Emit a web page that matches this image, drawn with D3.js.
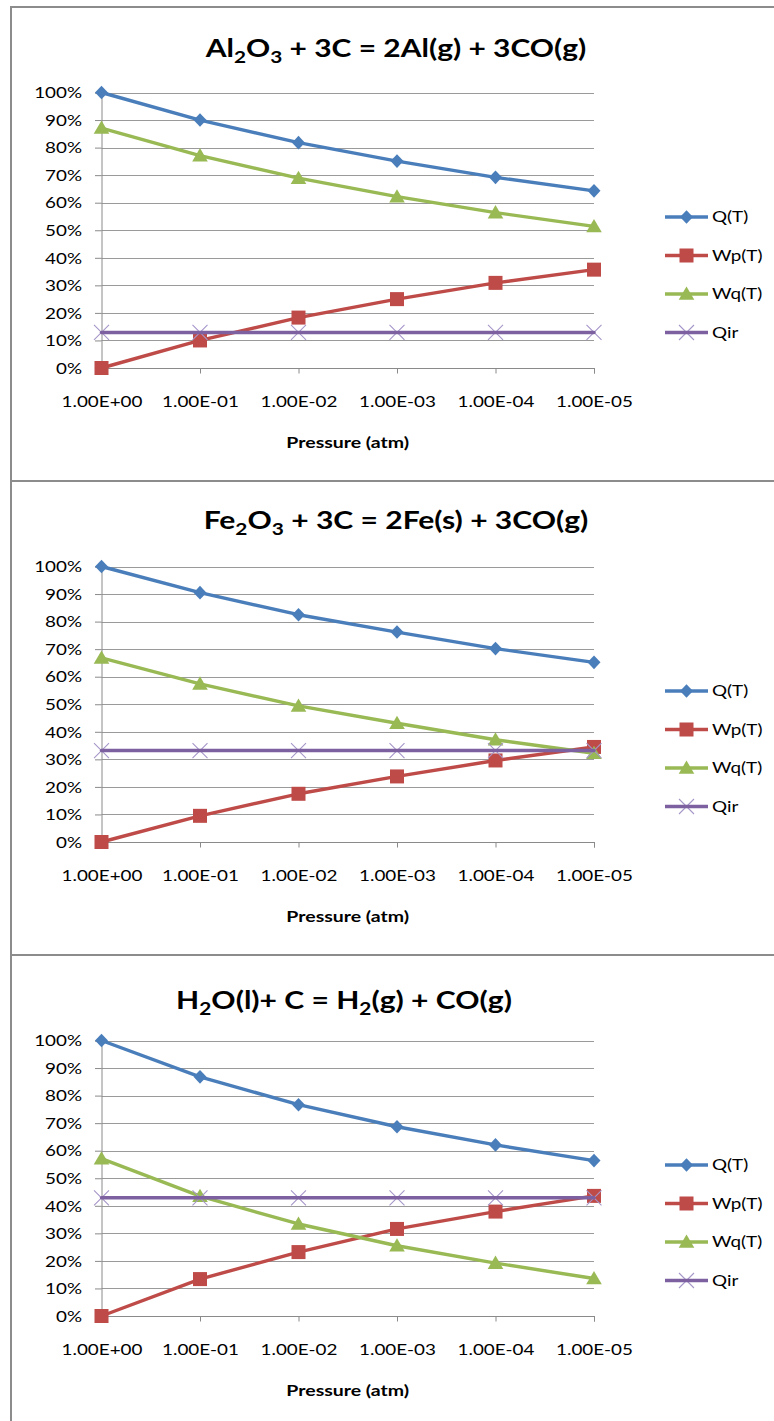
<!DOCTYPE html>
<html>
<head>
<meta charset="utf-8">
<script src="https://cdn.jsdelivr.net/npm/d3@7"></script>
<style>
  body { margin: 0; background: #fff; }
  svg { display: block; }
  text { font-family: Lato, "Open Sans", "Noto Sans", sans-serif; fill: #000; }
</style>
</head>
<body>
<svg id="chart" width="774" height="1421"></svg>
<script>
// ---- data ----
const pressures = ["1.00E+00", "1.00E-01", "1.00E-02", "1.00E-03", "1.00E-04", "1.00E-05"];
const seriesNames = ["Q(T)", "Wp(T)", "Wq(T)", "Qir"];
const yTicks = [0, 0.1, 0.2, 0.3, 0.4, 0.5, 0.6, 0.7, 0.8, 0.9, 1.0];
const xAxisTitle = "Pressure (atm)";

// Al2O3 + 3C = 2Al(g) + 3CO(g)
const alQ   = [1.000, 0.900, 0.818, 0.751, 0.692, 0.643];
const alWp  = [0.000, 0.100, 0.183, 0.250, 0.309, 0.357];
const alWq  = [0.871, 0.771, 0.689, 0.622, 0.564, 0.514];
const alQir = [0.129, 0.129, 0.129, 0.129, 0.129, 0.129];

// Fe2O3 + 3C = 2Fe(s) + 3CO(g)
const feQ   = [1.000, 0.905, 0.825, 0.762, 0.702, 0.652];
const feWp  = [0.000, 0.095, 0.175, 0.238, 0.296, 0.345];
const feWq  = [0.668, 0.574, 0.494, 0.431, 0.371, 0.322];
const feQir = [0.332, 0.332, 0.332, 0.332, 0.332, 0.332];

// H2O(l) + C = H2(g) + CO(g)
const h2oQ   = [1.000, 0.868, 0.767, 0.687, 0.621, 0.564];
const h2oWp  = [0.000, 0.134, 0.232, 0.316, 0.379, 0.436];
const h2oWq  = [0.571, 0.435, 0.334, 0.255, 0.192, 0.136];
const h2oQir = [0.429, 0.429, 0.429, 0.429, 0.429, 0.429];

// title pieces: [text, isSubscript]
const alTitle  = [["Al", false], ["2", true], ["O", false], ["3", true], [" + 3C = 2Al(g) + 3CO(g)", false]];
const feTitle  = [["Fe", false], ["2", true], ["O", false], ["3", true], [" + 3C = 2Fe(s) + 3CO(g)", false]];
const h2oTitle = [["H", false], ["2", true], ["O(l)+ C = H", false], ["2", true], ["(g) + CO(g)", false]];

// ---- styles & layout ----
const colors = ["#4A7EBB", "#BE4B48", "#98B954", "#7D60A0"];
const xMarkerColor = "#A796C8";
const SX = 1.3;              // horizontal stretch of the small text
const subShift = 6;          // subscript drop
const plotLeft = 101.5, plotRight = 594, plotH = 275.5;

const panels = [
  { top: 7,   title: alTitle,  titleCx: 396, titleBase: 57,   titleW: 382, series: [alQ, alWp, alWq, alQir] },
  { top: 481, title: feTitle,  titleCx: 396, titleBase: 529,  titleW: 385, series: [feQ, feWp, feWq, feQir] },
  { top: 955, title: h2oTitle, titleCx: 344, titleBase: 1009, titleW: 336, series: [h2oQ, h2oWp, h2oWq, h2oQir] }
];

const svg = d3.select("#chart");
svg.append("rect").attr("width", 774).attr("height", 1421).attr("fill", "#fff");

// marker shapes
function drawMarker(g, kind, color) {
  if (kind === 0) {
    g.append("path").attr("d", "M0,-6.8L6.5,0L0,6.8L-6.5,0Z").attr("fill", color);
  } else if (kind === 1) {
    g.append("rect").attr("x", -7).attr("y", -7).attr("width", 14).attr("height", 14).attr("fill", color);
  } else if (kind === 2) {
    g.append("path").attr("d", "M0,-7.5L7.8,5.8L-7.8,5.8Z").attr("fill", color);
  } else {
    g.append("path").attr("d", "M-7.5,-7.5L7.5,7.5M-7.5,7.5L7.5,-7.5")
      .attr("stroke", xMarkerColor).attr("stroke-width", 1.1).attr("fill", "none");
  }
}

panels.forEach((p) => {
  const g = svg.append("g");
  const plotTop = p.top + 85.5;
  const plotBottom = plotTop + plotH;

  // chart frame
  g.append("rect")
    .attr("x", 11).attr("y", p.top).attr("width", 800).attr("height", 474)
    .attr("fill", "#fff").attr("stroke", "#8C8C8C").attr("stroke-width", 2);

  const x = d3.scalePoint().domain(pressures).range([plotLeft, plotRight]);
  const y = d3.scaleLinear().domain([0, 1]).range([plotBottom, plotTop]);

  // horizontal gridlines
  g.append("g").selectAll("line").data(yTicks.filter(d => d > 0)).join("line")
    .attr("x1", plotLeft).attr("x2", plotRight)
    .attr("y1", d => Math.round(y(d)) + 0.5).attr("y2", d => Math.round(y(d)) + 0.5)
    .attr("stroke", "#9A9A9A").attr("stroke-width", 1);

  // y axis
  const yAxis = g.append("g").attr("transform", `translate(${plotLeft},0)`)
    .call(d3.axisLeft(y).tickValues(yTicks).tickSize(6.5).tickPadding(0).tickFormat(d3.format(".0%")));
  yAxis.select(".domain").attr("stroke", "#8A8A8A");
  yAxis.selectAll(".tick line").attr("stroke", "#8A8A8A");
  yAxis.selectAll(".tick text")
    .attr("x", 0).attr("dy", "0.36em")
    .attr("transform", `translate(-19.5,0) scale(${SX},1)`)
    .style("font-size", "14.5px").style("font-family", "Lato").attr("fill", "#000");

  // x axis
  const xAxis = g.append("g").attr("transform", `translate(0,${plotBottom})`)
    .call(d3.axisBottom(x).tickSize(5.5).tickPadding(0));
  xAxis.select(".domain").attr("stroke", "#8A8A8A");
  xAxis.selectAll(".tick line").attr("stroke", "#8A8A8A");
  xAxis.selectAll(".tick text")
    .attr("y", 0).attr("dy", 0)
    .attr("transform", `translate(0,39) scale(${SX},1)`)
    .style("font-size", "14.5px").style("font-family", "Lato").attr("fill", "#000");

  // x axis title
  g.append("text")
    .attr("transform", `translate(${(plotLeft + plotRight) / 2},${plotBottom + 80}) scale(${SX},1)`)
    .attr("text-anchor", "middle")
    .style("font-size", "15px").style("font-weight", "bold")
    .text(xAxisTitle);

  // chart title with subscripts, fitted to its width
  const t = g.append("text")
    .attr("text-anchor", "middle")
    .style("font-size", "24.5px").style("font-weight", "bold");
  let prevSub = false;
  p.title.forEach(([s, sub]) => {
    t.append("tspan")
      .attr("dy", (sub ? subShift : 0) - (prevSub ? subShift : 0))
      .style("font-size", sub ? "17px" : null)
      .text(s);
    prevSub = sub;
  });
  const tw = t.node().getBBox().width;
  t.attr("transform", `translate(${p.titleCx},${p.titleBase}) scale(${p.titleW / tw},1)`);

  // series lines and markers
  const line = d3.line().x((d, i) => x(pressures[i])).y(d => y(d));
  p.series.forEach((vals, si) => {
    const sg = g.append("g");
    const addMarkers = () => vals.forEach((v, i) =>
      drawMarker(sg.append("g").attr("transform", `translate(${x(pressures[i])},${y(v)})`), si, colors[si]));
    const addLine = () => sg.append("path").attr("d", line(vals))
      .attr("fill", "none").attr("stroke", colors[si]).attr("stroke-width", 3.4)
      .attr("stroke-linejoin", "round").attr("stroke-linecap", "round");
    if (si === 3) { addMarkers(); addLine(); }   // Qir crosses sit under the line
    else { addLine(); addMarkers(); }
  });

  // legend
  const lg = g.append("g");
  seriesNames.forEach((name, i) => {
    const ly = plotBottom - 151 + i * 38.5;
    const item = lg.append("g").attr("transform", `translate(0,${ly})`);
    if (i === 3) drawMarker(item.append("g").attr("transform", "translate(686.5,0)"), i, colors[i]);
    item.append("line").attr("x1", 665).attr("x2", 708).attr("y1", 0).attr("y2", 0)
      .attr("stroke", colors[i]).attr("stroke-width", 3.4);
    if (i !== 3) drawMarker(item.append("g").attr("transform", "translate(686.5,0)"), i, colors[i]);
    item.append("text")
      .attr("transform", `translate(712,0) scale(${SX},1)`)
      .attr("dy", "0.36em")
      .style("font-size", "14.5px")
      .text(name);
  });
});
</script>
</body>
</html>
